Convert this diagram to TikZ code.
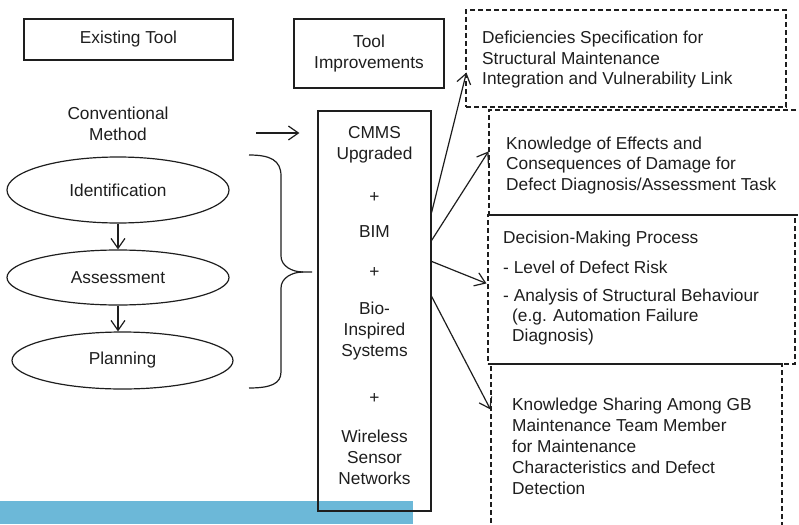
\documentclass[tikz,border=0pt]{standalone}
\usepackage{fontspec}
\setmainfont{Liberation Sans}
\usetikzlibrary{arrows.meta,shapes.geometric,calc}
\definecolor{band}{RGB}{108,184,216}
\definecolor{ink}{RGB}{30,30,30}

\begin{document}
\begin{tikzpicture}[x=1pt,y=-1pt,
  every node/.style={font=\fontsize{17.3}{21}\selectfont, text=ink, inner sep=0pt},
  solidbox/.style={draw=ink, line width=1.2pt, rectangle},
  dashbox/.style={draw=ink, line width=1.1pt, rectangle, dash pattern=on 5pt off 3pt},
  oval/.style={draw=ink, line width=1.2pt, ellipse, minimum width=222pt, minimum height=#1},
  arr/.style={draw=ink, line width=1.2pt, -{Straight Barb[length=10pt,width=14pt]}},
  note/.style={anchor=north west, align=left},
  tight/.style={font=\fontsize{17.3}{20.5}\selectfont}
]
\path[use as bounding box, clip] (0,0) rectangle (799,524);

% strip along the lower edge
\fill[band] (0,501) rectangle (413,524);

% existing tool column
\node[solidbox, minimum width=209pt, minimum height=41pt] (existing) at (128.5,39.5) {Existing Tool};
\node[align=center] (conv) at (118,123.5) {Conventional\\Method};
\node[oval=66pt] (ident) at (118,190) {Identification};
\node[oval=55pt] (assess) at (118,277.5) {Assessment};
\node[oval=57pt, minimum width=221pt] (plan) at (122.5,360.5) {Planning};
\draw[arr] (ident) -- (assess);
\draw[arr] (assess.south) -- (assess.south |- plan.north);

% brace grouping the three stages
\draw[ink, line width=1.2pt]
  (249,155) .. controls (270,155) and (281,160) .. (281,176)
  -- (281,256) .. controls (281,266) and (292,272) .. (303,272) -- (312,272);
\draw[ink, line width=1.2pt]
  (303,272) .. controls (292,272) and (281,278) .. (281,288)
  -- (281,372) .. controls (281,384) and (270,388) .. (249,388);

% improved tool column
\node[solidbox, minimum width=150pt, minimum height=69pt, align=center] (improve) at (369,53.5) {Tool\\Improvements};
\node[solidbox, minimum width=113pt, minimum height=400pt] (cmms) at (374.5,311) {};
\node[align=center] (cmmstext) at (374.5,145) {CMMS\\Upgraded};
\node (plus1) at (374.5,198) {+};
\node (bim) at (374.5,232) {BIM};
\node (plus2) at (374.5,273) {+};
\node[align=center] (bio) at (374.5,331.5) {Bio-\\Inspired\\Systems};
\node (plus3) at (374.5,399) {+};
\node[align=center] (wsn) at (374.5,457.5) {Wireless\\Sensor\\Networks};

\coordinate (convtail) at (256,133);
\draw[arr] (convtail) -- ($(cmms.west |- convtail)+(-18,0)$);

% outcomes
\node[dashbox, minimum width=320pt, minimum height=97pt] (d1) at (626,58.5) {};
\node[dashbox, minimum width=321pt, minimum height=105pt] (d2) at (649.5,162.5) {};
\node[dashbox, minimum width=307pt, minimum height=149pt] (d3) at (641.5,289.5) {};
\node[dashbox, minimum width=291pt, minimum height=176pt] (d4) at (636.5,452) {};

\node[note, tight] (d1text) at (482,31.2)
  {Deficiencies Specification for\\Structural Maintenance\\Integration and Vulnerability Link};
\node[note, font=\fontsize{17.3}{20.8}\selectfont] (d2text) at (506,136.4)
  {Knowledge of Effects and\\Consequences of Damage for\\Defect Diagnosis/Assessment Task};
\node[note, tight] (d3text) at (503,230.8)
  {Decision-Making Process\\[9.5pt]- Level of Defect Risk\\[7.5pt]- Analysis of Structural Behaviour\\[-1pt]\hspace*{9pt}(e.g. Automation Failure\\\hspace*{9pt}Diagnosis)};
\node[note] (d4text) at (512,397.4)
  {Knowledge Sharing Among GB\\Maintenance Team Member\\for Maintenance\\Characteristics and Defect\\Detection};

\draw[arr] ($(cmms.north east)+(0,102)$) -- ($(d1.south west)+(1,-35)$);
\draw[arr] ($(cmms.north east)+(0,130)$) -- ($(d2.north west)+(0,42)$);
\draw[arr] ($(cmms.north east)+(0,151)$) -- ($(d3.north west)+(-1,69)$);
\draw[arr] ($(cmms.north east)+(0,186)$) -- ($(d4.north west)+(0,46)$);
\end{tikzpicture}
\end{document}
